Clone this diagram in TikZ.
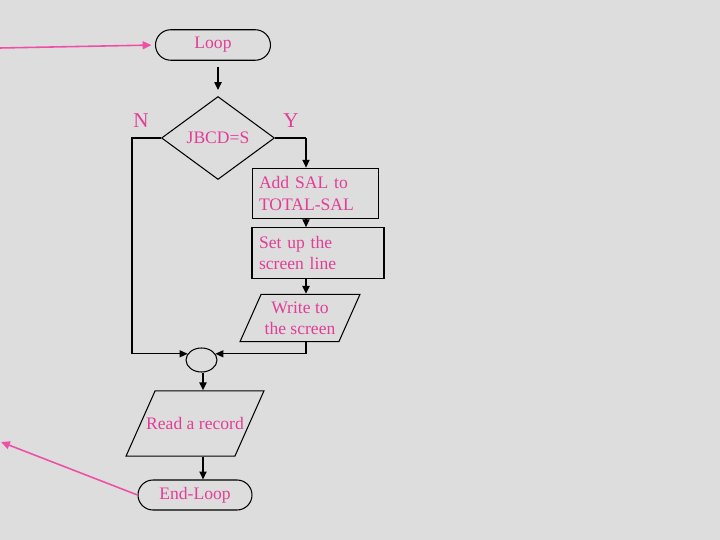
\documentclass[tikz,border=0pt]{standalone}
\usepackage{fontspec}
\setmainfont{Liberation Serif}
\usepackage{tikz}
\usetikzlibrary{shapes.geometric,shapes.misc,arrows.meta,positioning,calc}
\definecolor{flowPink}{RGB}{226,62,150}
\definecolor{linkPink}{RGB}{238,80,165}
\definecolor{bgGray}{RGB}{221,221,221}

\tikzset{
  lbl/.style={text=flowPink, font=\fontsize{10}{12}\selectfont},
  terminal/.style={rounded rectangle, draw, lbl, line width=0.6pt,
    minimum width=2.3cm, minimum height=0.61cm, inner sep=0pt},
  decision/.style={diamond, draw, lbl, line width=0.6pt,
    minimum width=2.26cm, minimum height=1.66cm, inner sep=0pt},
  process/.style={rectangle, draw, lbl, line width=0.6pt, align=left,
    minimum height=1.01cm, inner xsep=0.13cm, inner ysep=0pt},
  inout/.style={trapezium, trapezium left angle=66, trapezium right angle=114,
    trapezium stretches body=true,
    draw, lbl, line width=0.6pt, align=center, inner xsep=0pt},
  joint/.style={ellipse, draw, line width=0.6pt,
    minimum width=0.62cm, minimum height=0.48cm, inner sep=0pt},
  flow/.style={line width=1.1pt, -{Triangle[length=4.5pt,width=4pt]}},
  link/.style={line width=0.6pt},
  jump/.style={draw=linkPink, line width=0.9pt, -{Triangle[length=5pt,width=4.5pt]}},
  branch/.style={text=flowPink, font=\fontsize{12}{14}\selectfont}
}

\begin{document}
\begin{tikzpicture}[x=0.02cm,y=-0.02cm]
        \fill[bgGray] (0,0) rectangle (720,540);
        \useasboundingbox (0,0) rectangle (720,540);
        % --- Loop head ---
        \node[terminal] (loop) at (213,45) {Loop};
        \node[decision] (dec) at (218,138) {JBCD=S};
        \node[branch] (no) at (141,121) {N};
        \node[branch] (yes) at (291,121) {Y};
        % --- Y side ---
        \node[process, text width=2.26cm] (add) at (315.5,193.5) {Add SAL to\\TOTAL-SAL};
        \node[process, text width=2.36cm, inner xsep=0.14cm] (setup) at (318,253) {Set up the\\screen line};
        \node[inout, minimum width=2.4cm, inner ysep=0.145cm] (write) at (300,318) {Write to\\the screen};
        % --- join and tail ---
        \node[joint] (conn) at (201.5,360) {};
        \node[inout, minimum width=2.76cm, inner ysep=0.53cm, inner xsep=-0.18cm] (read) at (195,423.5) {Read a record};
        \node[terminal, minimum width=2.28cm, minimum height=0.6cm] (endloop) at (195,495) {End-Loop};
        % Helper columns
        \coordinate (ycol) at (306,138);
        \coordinate (ncol) at (132,138);
        \coordinate (loopin) at (0,48);
        \coordinate (loopout) at (1,442);
        % Connections
        \draw[flow, shorten <=3.4pt, shorten >=3.4pt] (dec.north |- loop.south) -- (dec.north);
        \draw[link] (dec.east) -- (ycol);
        \draw[flow] (ycol) -- (ycol |- add.north);
        \draw[flow] (add.south -| ycol) -- (setup.north -| ycol);
        \draw[flow] (setup.south -| ycol) -- (write.north -| ycol);
        \draw[link, -{Triangle[length=4.5pt,width=4pt]}] (write.south -| ycol) |- (conn.24);
        \draw[link, -{Triangle[length=4.5pt,width=4pt]}] (dec.west) -- (ncol) |- (conn.156);
        \draw[flow] ([xshift=0.03cm]conn.south) -- ([xshift=0.03cm]conn.south |- read.north);
        \draw[flow] ([xshift=0.03cm]conn.south |- read.south) -- ([xshift=0.03cm]conn.south |- endloop.north);
        % Loop-back links
        \draw[jump, shorten >=2pt] (loopin) -- (loop.west);
        \draw[jump] (endloop.west) -- (loopout);
\end{tikzpicture}
\end{document}
